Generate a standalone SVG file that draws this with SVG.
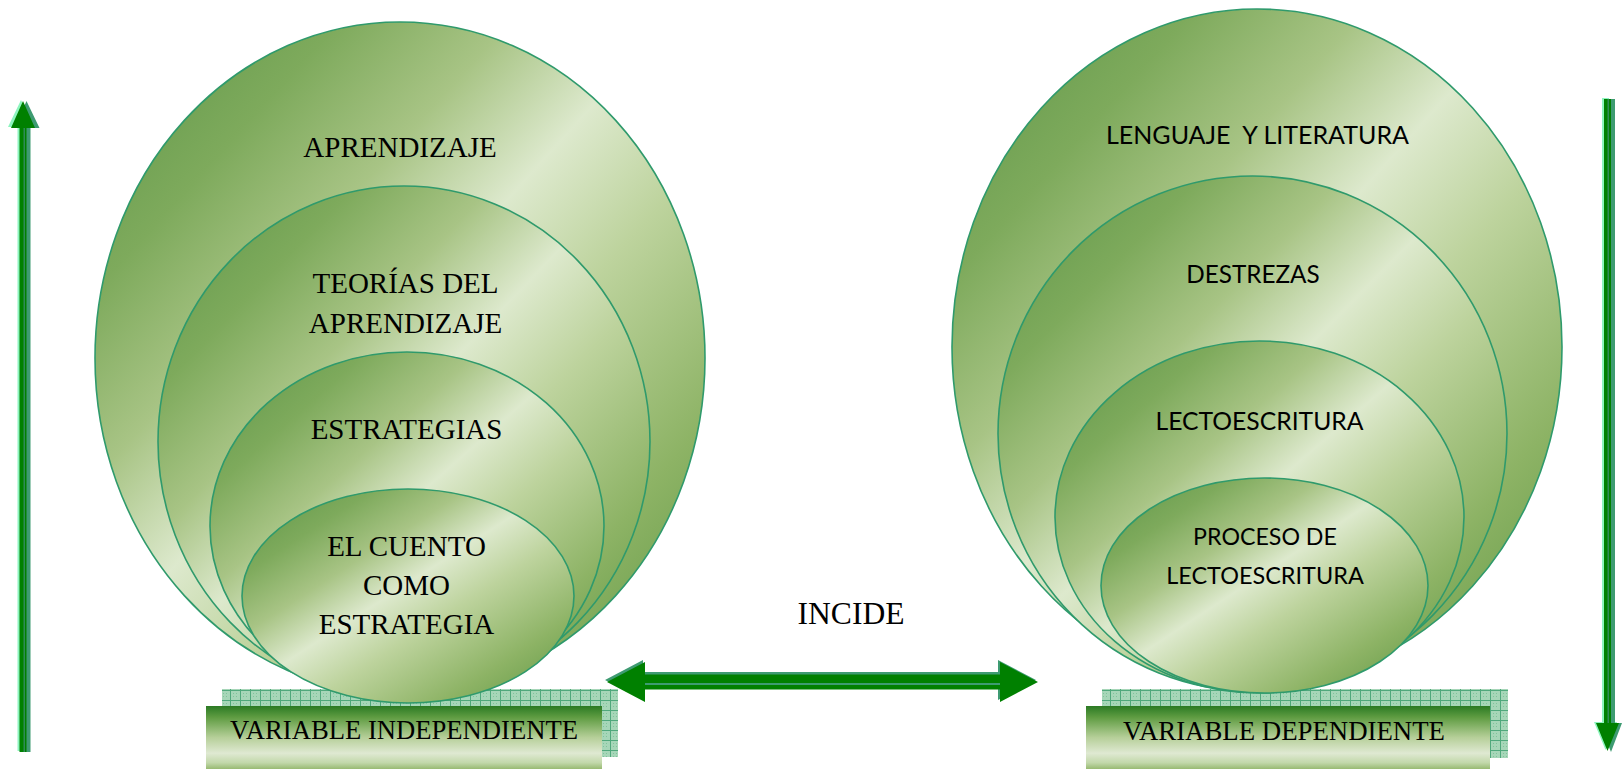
<svg xmlns="http://www.w3.org/2000/svg" width="1622" height="775" viewBox="0 0 1622 775">
<defs>
<linearGradient id="eg" x1="0" y1="0" x2="1" y2="1">
<stop offset="0" stop-color="#5a9445"/>
<stop offset="0.2" stop-color="#7eaa5c"/>
<stop offset="0.34" stop-color="#a8c485"/>
<stop offset="0.47" stop-color="#dde9cd"/>
<stop offset="0.6" stop-color="#bdd39d"/>
<stop offset="0.8" stop-color="#8db365"/>
<stop offset="1" stop-color="#5c9541"/>
</linearGradient>
<linearGradient id="bg" x1="0" y1="0" x2="0" y2="1">
<stop offset="0" stop-color="#2b7a24"/>
<stop offset="0.18" stop-color="#5f9c42"/>
<stop offset="0.5" stop-color="#b6cf99"/>
<stop offset="0.75" stop-color="#dfe9d2"/>
<stop offset="0.9" stop-color="#c2d8aa"/>
<stop offset="1" stop-color="#98ba72"/>
</linearGradient>
<pattern id="hatch" width="10" height="10" patternUnits="userSpaceOnUse">
<rect width="10" height="10" fill="#a6d6b8"/>
<rect x="3" y="3" width="1" height="1" fill="#7fc39b"/>
<rect x="6" y="6" width="1" height="1" fill="#7fc39b"/>
<rect x="3" y="6" width="1" height="1" fill="#7fc39b"/>
<rect x="6" y="3" width="1" height="1" fill="#7fc39b"/>
<path d="M0 0.5H10M0.5 0V10" stroke="#4fa87c" stroke-width="1"/>
</pattern>
<style>
.ell{fill:url(#eg);stroke:#2f9a6c;stroke-width:1.6}
.serif{font-family:"Liberation Serif","Times New Roman",serif;fill:#000;text-anchor:middle}
.sans{font-family:Lato,"Liberation Sans",sans-serif;fill:#000;text-anchor:middle}
.box{fill:url(#bg)}
.hatch{fill:url(#hatch)}
.main{fill:#008000}
.shadow{fill:#3e9b72}
.hl{fill:#8ef5bf}
</style>
</defs>
<rect width="1622" height="775" fill="#ffffff"/>

<g id="variable-independiente">
<rect class="hatch" x="222" y="689" width="396" height="68"/>
<rect class="box" x="206" y="706" width="396" height="63"/>
<text class="serif" x="404" y="739" font-size="26.5" textLength="348" lengthAdjust="spacingAndGlyphs">VARIABLE INDEPENDIENTE</text>
</g>

<g id="variable-dependiente">
<rect class="hatch" x="1102" y="689" width="406" height="69"/>
<rect class="box" x="1086" y="706" width="404" height="63"/>
<text class="serif" x="1284" y="740" font-size="26.5" textLength="322" lengthAdjust="spacingAndGlyphs">VARIABLE DEPENDIENTE</text>
</g>

<g id="aprendizaje">
<ellipse class="ell" cx="400" cy="358" rx="305" ry="336"/>
<text class="serif" x="400" y="157" font-size="29">APRENDIZAJE</text>
</g>
<g id="teorias">
<ellipse class="ell" cx="404" cy="441.5" rx="246" ry="255.5"/>
<text class="serif" x="405.5" y="293" font-size="29">TEORÍAS DEL</text>
<text class="serif" x="405.5" y="333" font-size="29">APRENDIZAJE</text>
</g>
<g id="estrategias">
<ellipse class="ell" cx="407" cy="526" rx="197" ry="174"/>
<text class="serif" x="406.5" y="438.5" font-size="29">ESTRATEGIAS</text>
</g>
<g id="el-cuento">
<ellipse class="ell" cx="408" cy="596" rx="166" ry="107"/>
<text class="serif" x="406.5" y="555.5" font-size="29">EL CUENTO</text>
<text class="serif" x="406.5" y="595" font-size="29">COMO</text>
<text class="serif" x="406.5" y="634" font-size="29">ESTRATEGIA</text>
</g>

<g id="lenguaje">
<ellipse class="ell" cx="1257" cy="347" rx="305" ry="338"/>
<text class="sans" x="1257.5" y="144" font-size="25" textLength="303" lengthAdjust="spacingAndGlyphs" xml:space="preserve">LENGUAJE  Y LITERATURA</text>
</g>
<g id="destrezas">
<ellipse class="ell" cx="1252.5" cy="433.5" rx="254.5" ry="257.5"/>
<text class="sans" x="1253" y="282.5" font-size="25" textLength="133.5" lengthAdjust="spacingAndGlyphs">DESTREZAS</text>
</g>
<g id="lectoescritura">
<ellipse class="ell" cx="1259.5" cy="517" rx="204.5" ry="176"/>
<text class="sans" x="1259.5" y="429.5" font-size="25" textLength="208" lengthAdjust="spacingAndGlyphs">LECTOESCRITURA</text>
</g>
<g id="proceso">
<ellipse class="ell" cx="1264.5" cy="585.5" rx="163.5" ry="107.5"/>
<text class="sans" x="1265" y="545" font-size="24" textLength="143.8" lengthAdjust="spacingAndGlyphs">PROCESO DE</text>
<text class="sans" x="1265" y="583.5" font-size="24" textLength="197.6" lengthAdjust="spacingAndGlyphs">LECTOESCRITURA</text>
</g>

<g id="connectors">
<g id="incide-arrow">
<polygon class="shadow" points="605,680 643,660 643,672 998,672 998,660 1036,680 998,700 998,688 643,688 643,700"/>
<polygon class="main" points="607,682 645,662 645,674.5 1000,674.5 1000,662 1038,682 1000,702 1000,689.5 645,689.5 645,702"/>
<rect x="645" y="683" width="355" height="2" fill="#3e9b72"/>
</g>
<text class="serif" x="851" y="624" font-size="31" textLength="107" lengthAdjust="spacingAndGlyphs">INCIDE</text>
<g id="up-arrow">
<polygon class="hl" points="21,100 8,127 17.5,127 17.5,751 25,751 25,127 34,127"/>
<polygon class="shadow" points="26.5,101 39.5,128 30.5,128 30.5,752 23,752 23,128 14.5,128"/>
<polygon class="main" points="23,101 35,128 26.5,128 26.5,752 19.5,752 19.5,128 11,128"/>
<rect x="23.5" y="128" width="1.5" height="624" fill="#2e8b57"/>
</g>
<g id="down-arrow">
<polygon class="hl" points="1602,98 1609,98 1609,722 1617,722 1605.5,750 1594,722 1602,722"/>
<polygon class="shadow" points="1607.5,99 1615,99 1615,723 1622,723 1611,752 1599,723 1607.5,723"/>
<polygon class="main" points="1604,99 1611,99 1611,723 1619,723 1607.5,751 1596,723 1604,723"/>
<rect x="1607.5" y="99" width="1.5" height="624" fill="#2e8b57"/>
</g>
</g>
</svg>
